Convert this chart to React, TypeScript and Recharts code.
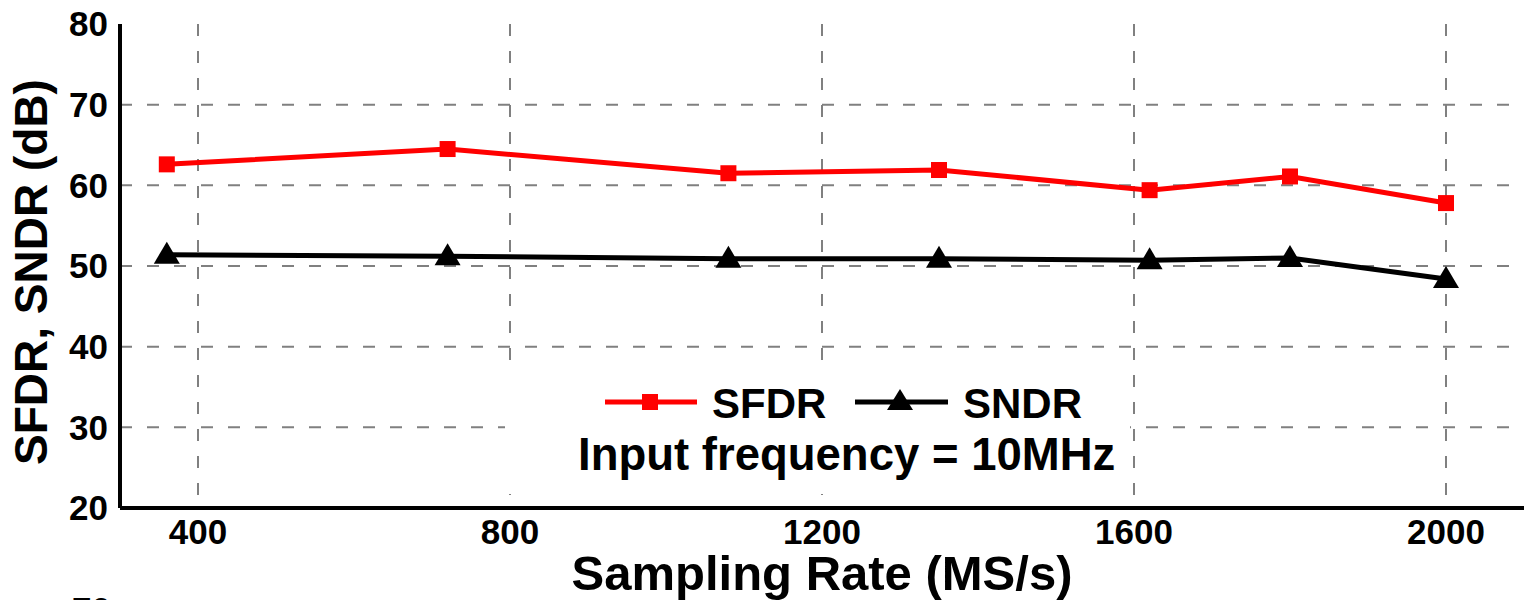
import { CartesianGrid, Line, LineChart, XAxis, YAxis } from "recharts";

const SAMPLING_RATES = [360, 720, 1080, 1350, 1620, 1800, 2000];
const SFDR = [62.6, 64.5, 61.5, 61.9, 59.4, 61.1, 57.8];
const SNDR = [51.4, 51.2, 50.9, 50.9, 50.7, 51.0, 48.4];
const X_TICKS = [400, 800, 1200, 1600, 2000];
const Y_TICKS = [20, 30, 40, 50, 60, 70, 80];
const GRID_Y = [30, 40, 50, 60, 70];

const data = SAMPLING_RATES.map((rate, i) => ({
  rate,
  sfdr: SFDR[i],
  sndr: SNDR[i],
}));

const FONT = "'Liberation Sans', Arial, Helvetica, sans-serif";

function Square(props: any) {
  const { cx, cy } = props;
  if (cx == null || cy == null) return null;
  return <rect x={cx - 8} y={cy - 8} width={16} height={16} fill="#FF0000" />;
}

function Triangle(props: any) {
  const { cx, cy } = props;
  if (cx == null || cy == null) return null;
  return (
    <polygon
      points={`${cx},${cy - 13} ${cx + 13},${cy + 9} ${cx - 13},${cy + 9}`}
      fill="#000"
    />
  );
}

// legend + note, sits on a white patch over the grid like in the figure
function LegendBox() {
  return (
    <svg
      width={625}
      height={122}
      style={{ position: "absolute", left: 505, top: 372, background: "#fff" }}
    >
      <line x1={100} y1={30} x2={192} y2={30} stroke="#FF0000" strokeWidth={5} />
      <rect x={137} y={22} width={16} height={16} fill="#FF0000" />
      <line x1={350} y1={30} x2={443} y2={30} stroke="#000" strokeWidth={5} />
      <polygon points="395,17 408,38 382,38" fill="#000" />
      <text x={207} y={46} fontSize={42} fontFamily={FONT} fontWeight={700}>
        SFDR
      </text>
      <text x={458} y={46} fontSize={42} fontFamily={FONT} fontWeight={700}>
        SNDR
      </text>
      <text x={73} y={98} fontSize={45.5} fontFamily={FONT} fontWeight={700}>
        Input frequency = 10MHz
      </text>
    </svg>
  );
}

function XLabel(props: any) {
  const { viewBox } = props;
  return (
    <text
      x={viewBox.x + viewBox.width / 2}
      y={590}
      textAnchor="middle"
      fontSize={49}
      fontWeight={700}
      fontFamily={FONT}
      fill="#000"
    >
      Sampling Rate (MS/s)
    </text>
  );
}

function YLabel(props: any) {
  const { viewBox } = props;
  const cx = 47;
  const cy = viewBox.y + viewBox.height / 2 + 6;
  return (
    <text
      x={cx}
      y={cy}
      transform={`rotate(-90 ${cx} ${cy})`}
      textAnchor="middle"
      fontSize={46}
      fontWeight={700}
      fontFamily={FONT}
      fill="#000"
    >
      SFDR, SNDR (dB)
    </text>
  );
}

export default function App() {
  return (
    <div
      style={{
        position: "absolute",
        left: 0,
        top: 0,
        width: 1527,
        height: 600,
        overflow: "hidden",
        background: "#fff",
        fontFamily: FONT,
      }}
    >
      <LineChart
        width={1527}
        height={600}
        data={data}
        margin={{ top: 24, right: 3, bottom: 0, left: 0 }}
      >
        <CartesianGrid
          stroke="#808080"
          strokeWidth={2}
          strokeDasharray="12 15"
          verticalValues={X_TICKS}
          horizontalValues={GRID_Y}
        />
        <XAxis
          dataKey="rate"
          type="number"
          domain={[300, 2100]}
          ticks={X_TICKS}
          allowDataOverflow
          tickSize={0}
          tickMargin={11}
          axisLine={{ stroke: "#000", strokeWidth: 4 }}
          tick={{ fontSize: 35, fontWeight: 700, fill: "#000", fontFamily: FONT }}
          height={92}
          label={<XLabel />}
        />
        <XAxis
          xAxisId="top"
          orientation="top"
          dataKey="rate"
          type="number"
          domain={[300, 2100]}
          height={0}
          tick={false}
          tickLine={false}
          axisLine={{ stroke: "#000", strokeWidth: 4 }}
        />
        <YAxis
          type="number"
          domain={[20, 80]}
          ticks={Y_TICKS}
          width={120}
          tickSize={0}
          tickMargin={12}
          axisLine={{ stroke: "#000", strokeWidth: 4 }}
          tick={{ fontSize: 35, fontWeight: 700, fill: "#000", fontFamily: FONT }}
          label={<YLabel />}
        />
        <YAxis
          yAxisId="right"
          orientation="right"
          type="number"
          domain={[20, 80]}
          width={0}
          tick={false}
          tickLine={false}
          axisLine={{ stroke: "#000", strokeWidth: 4 }}
        />
        <Line
          dataKey="sfdr"
          name="SFDR"
          stroke="#FF0000"
          strokeWidth={5}
          dot={<Square />}
          activeDot={false}
          isAnimationActive={false}
        />
        <Line
          dataKey="sndr"
          name="SNDR"
          stroke="#000"
          strokeWidth={5}
          dot={<Triangle />}
          activeDot={false}
          isAnimationActive={false}
        />
      </LineChart>
      <LegendBox />
      <div
        style={{
          position: "absolute",
          left: 72,
          top: 590,
          fontSize: 35,
          fontWeight: 700,
          color: "#000",
        }}
      >
        70
      </div>
    </div>
  );
}
